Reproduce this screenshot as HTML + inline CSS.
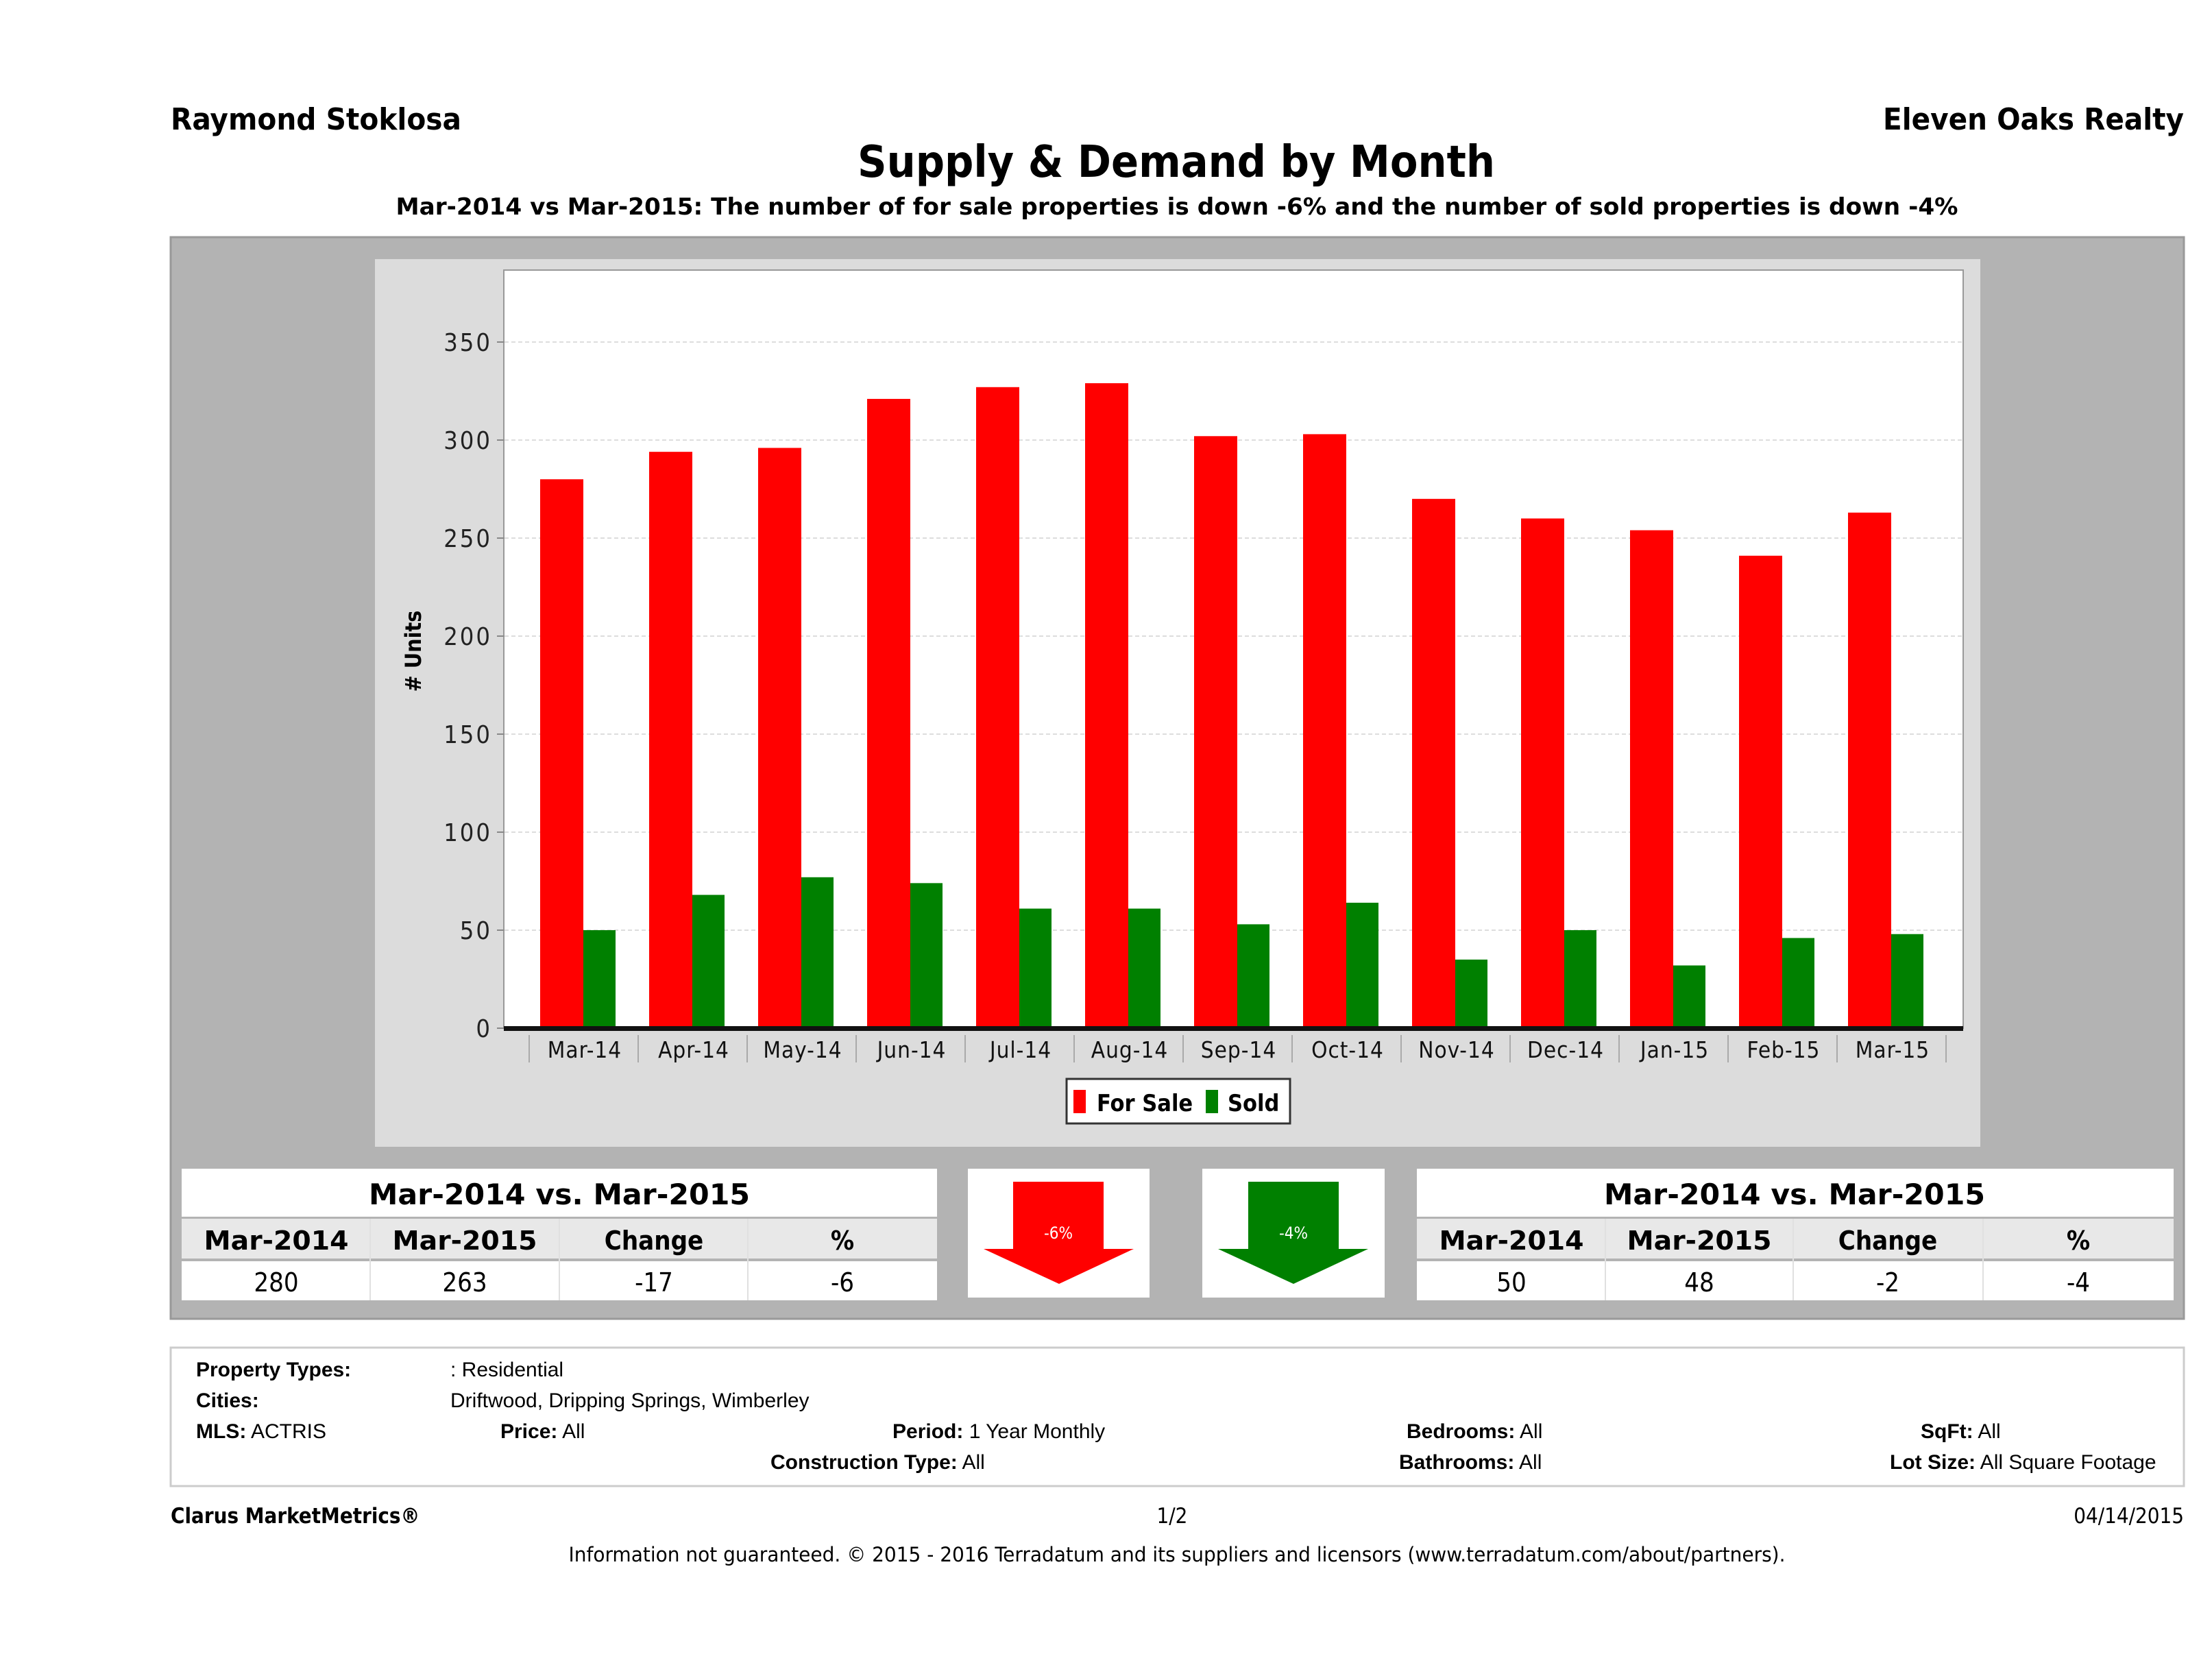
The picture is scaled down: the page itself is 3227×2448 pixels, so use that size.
<!DOCTYPE html>
<html><head><meta charset="utf-8"><style>html,body{margin:0;padding:0;background:#fff}svg{display:block}</style></head><body>
<svg xmlns="http://www.w3.org/2000/svg" width="3227" height="2448" viewBox="0 0 3227 2448" font-family="'DejaVu Sans Condensed','DejaVu Sans','Liberation Sans',sans-serif">
<rect width="3227" height="2448" fill="#fff"/>
<text x="249" y="189" font-size="44" font-weight="bold" textLength="424" lengthAdjust="spacingAndGlyphs">Raymond Stoklosa</text>
<text x="3186" y="189" font-size="44" font-weight="bold" text-anchor="end" textLength="439" lengthAdjust="spacingAndGlyphs">Eleven Oaks Realty</text>
<text x="1716" y="258" font-size="64" font-weight="bold" text-anchor="middle" textLength="930" lengthAdjust="spacingAndGlyphs">Supply &amp; Demand by Month</text>
<text x="1717" y="313" font-size="34" font-weight="bold" text-anchor="middle" textLength="2279" lengthAdjust="spacingAndGlyphs">Mar-2014 vs Mar-2015: The number of for sale properties is down -6% and the number of sold properties is down -4%</text>

<rect x="249" y="346" width="2937" height="1578" fill="#b3b3b3" stroke="#999" stroke-width="3"/>
<rect x="547" y="378" width="2342" height="1295" fill="#dcdcdc"/>
<rect x="735" y="394" width="2129" height="1106" fill="#fff" stroke="#999" stroke-width="2"/>
<g stroke="#ddd" stroke-width="2" stroke-dasharray="6,4">
<line x1="736" y1="1357" x2="2863" y2="1357"/><line x1="736" y1="1214" x2="2863" y2="1214"/><line x1="736" y1="1071" x2="2863" y2="1071"/><line x1="736" y1="928" x2="2863" y2="928"/><line x1="736" y1="785" x2="2863" y2="785"/><line x1="736" y1="642" x2="2863" y2="642"/><line x1="736" y1="499" x2="2863" y2="499"/>
</g>
<g font-size="36" text-anchor="end" fill="#222" letter-spacing="3">
<text x="718" y="1513">0</text><text x="718" y="1370">50</text><text x="718" y="1227">100</text><text x="718" y="1084">150</text><text x="718" y="941">200</text><text x="718" y="798">250</text><text x="718" y="655">300</text><text x="718" y="512">350</text>
</g>
<g stroke="#888" stroke-width="2"><line x1="725" y1="1500" x2="735" y2="1500"/><line x1="725" y1="1357" x2="735" y2="1357"/><line x1="725" y1="1214" x2="735" y2="1214"/><line x1="725" y1="1071" x2="735" y2="1071"/><line x1="725" y1="928" x2="735" y2="928"/><line x1="725" y1="785" x2="735" y2="785"/><line x1="725" y1="642" x2="735" y2="642"/><line x1="725" y1="499" x2="735" y2="499"/></g>
<text transform="translate(614,950) rotate(-90)" font-size="32" font-weight="bold" text-anchor="middle">#  Units</text>

<g transform="translate(0,1500) scale(1,-2.86)">
<g fill="#ff0000">
<rect x="788" y="0" width="63" height="280"/><rect x="947" y="0" width="63" height="294"/><rect x="1106" y="0" width="63" height="296"/><rect x="1265" y="0" width="63" height="321"/><rect x="1424" y="0" width="63" height="327"/><rect x="1583" y="0" width="63" height="329"/><rect x="1742" y="0" width="63" height="302"/><rect x="1901" y="0" width="63" height="303"/><rect x="2060" y="0" width="63" height="270"/><rect x="2219" y="0" width="63" height="260"/><rect x="2378" y="0" width="63" height="254"/><rect x="2537" y="0" width="63" height="241"/><rect x="2696" y="0" width="63" height="263"/>
</g>
<g fill="#008000">
<rect x="851" y="0" width="47" height="50"/><rect x="1010" y="0" width="47" height="68"/><rect x="1169" y="0" width="47" height="77"/><rect x="1328" y="0" width="47" height="74"/><rect x="1487" y="0" width="47" height="61"/><rect x="1646" y="0" width="47" height="61"/><rect x="1805" y="0" width="47" height="53"/><rect x="1964" y="0" width="47" height="64"/><rect x="2123" y="0" width="47" height="35"/><rect x="2282" y="0" width="47" height="50"/><rect x="2441" y="0" width="47" height="32"/><rect x="2600" y="0" width="47" height="46"/><rect x="2759" y="0" width="47" height="48"/>
</g>
</g>
<rect x="735" y="1497" width="2129" height="7" fill="#111"/>
<g stroke="#aaa" stroke-width="2">
<line x1="772" y1="1510" x2="772" y2="1550"/><line x1="931" y1="1510" x2="931" y2="1550"/><line x1="1090" y1="1510" x2="1090" y2="1550"/><line x1="1249" y1="1510" x2="1249" y2="1550"/><line x1="1408" y1="1510" x2="1408" y2="1550"/><line x1="1567" y1="1510" x2="1567" y2="1550"/><line x1="1726" y1="1510" x2="1726" y2="1550"/><line x1="1885" y1="1510" x2="1885" y2="1550"/><line x1="2044" y1="1510" x2="2044" y2="1550"/><line x1="2203" y1="1510" x2="2203" y2="1550"/><line x1="2362" y1="1510" x2="2362" y2="1550"/><line x1="2521" y1="1510" x2="2521" y2="1550"/><line x1="2680" y1="1510" x2="2680" y2="1550"/><line x1="2839" y1="1510" x2="2839" y2="1550"/>
</g>
<g font-size="33" text-anchor="middle" fill="#111" letter-spacing="1">
<text x="853" y="1543">Mar-14</text><text x="1012" y="1543">Apr-14</text><text x="1171" y="1543">May-14</text><text x="1330" y="1543">Jun-14</text><text x="1489" y="1543">Jul-14</text><text x="1648" y="1543">Aug-14</text><text x="1807" y="1543">Sep-14</text><text x="1966" y="1543">Oct-14</text><text x="2125" y="1543">Nov-14</text><text x="2284" y="1543">Dec-14</text><text x="2443" y="1543">Jan-15</text><text x="2602" y="1543">Feb-15</text><text x="2761" y="1543">Mar-15</text>
</g>
<rect x="1556" y="1574" width="326" height="65" fill="#fff" stroke="#333" stroke-width="3"/>
<rect x="1566" y="1590" width="18" height="34" fill="#ff0000"/>
<text x="1600" y="1621" font-size="34" font-weight="bold">For Sale</text>
<rect x="1759" y="1590" width="18" height="34" fill="#008000"/>
<text x="1791" y="1621" font-size="34" font-weight="bold">Sold</text>

<rect x="265" y="1705" width="1102" height="70" fill="#fff"/>
<rect x="265" y="1778" width="1102" height="58" fill="#e8e8e8"/>
<rect x="265" y="1840" width="1102" height="57" fill="#fff"/>
<g stroke="#e0e0e0" stroke-width="2"><line x1="540" y1="1778" x2="540" y2="1897"/><line x1="816" y1="1778" x2="816" y2="1897"/><line x1="1091" y1="1778" x2="1091" y2="1897"/></g>
<text x="816" y="1757" font-size="42" font-weight="bold" text-anchor="middle" textLength="556" lengthAdjust="spacingAndGlyphs">Mar-2014 vs. Mar-2015</text>
<g font-size="38" font-weight="bold" text-anchor="middle">
<text x="403" y="1823" textLength="211" lengthAdjust="spacingAndGlyphs">Mar-2014</text><text x="678" y="1823" textLength="211" lengthAdjust="spacingAndGlyphs">Mar-2015</text><text x="954" y="1823">Change</text><text x="1229" y="1823">%</text>
</g>
<g font-size="38" text-anchor="middle">
<text x="403" y="1884">280</text><text x="678" y="1884">263</text><text x="954" y="1884">-17</text><text x="1229" y="1884">-6</text>
</g>
<rect x="2067" y="1705" width="1104" height="70" fill="#fff"/>
<rect x="2067" y="1778" width="1104" height="58" fill="#e8e8e8"/>
<rect x="2067" y="1840" width="1104" height="57" fill="#fff"/>
<g stroke="#e0e0e0" stroke-width="2"><line x1="2342" y1="1778" x2="2342" y2="1897"/><line x1="2616" y1="1778" x2="2616" y2="1897"/><line x1="2893" y1="1778" x2="2893" y2="1897"/></g>
<text x="2618" y="1757" font-size="42" font-weight="bold" text-anchor="middle" textLength="556" lengthAdjust="spacingAndGlyphs">Mar-2014 vs. Mar-2015</text>
<g font-size="38" font-weight="bold" text-anchor="middle">
<text x="2205" y="1823" textLength="211" lengthAdjust="spacingAndGlyphs">Mar-2014</text><text x="2479" y="1823" textLength="211" lengthAdjust="spacingAndGlyphs">Mar-2015</text><text x="2754" y="1823">Change</text><text x="3032" y="1823">%</text>
</g>
<g font-size="38" text-anchor="middle">
<text x="2205" y="1884">50</text><text x="2479" y="1884">48</text><text x="2754" y="1884">-2</text><text x="3032" y="1884">-4</text>
</g>
<rect x="1412" y="1705" width="265" height="188" fill="#fff"/>
<polygon points="1478,1724 1610,1724 1610,1822 1654,1822 1545,1873 1435,1822 1478,1822" fill="#ff0000"/>
<text x="1544" y="1807" font-size="24" fill="#fff" text-anchor="middle">-6%</text>
<rect x="1754" y="1705" width="266" height="188" fill="#fff"/>
<polygon points="1821,1724 1953,1724 1953,1822 1996,1822 1887,1873 1777,1822 1821,1822" fill="#008000"/>
<text x="1887" y="1807" font-size="24" fill="#fff" text-anchor="middle">-4%</text>

<rect x="249" y="1966" width="2937" height="202" fill="#fff" stroke="#ccc" stroke-width="3"/>
<g font-size="30" font-family="'Liberation Sans',sans-serif">
<text x="286" y="2008" font-weight="bold">Property Types:</text><text x="657" y="2008">: Residential</text>
<text x="286" y="2053" font-weight="bold">Cities:</text><text x="657" y="2053">Driftwood, Dripping Springs, Wimberley</text>
<text x="286" y="2098"><tspan font-weight="bold">MLS:</tspan>   ACTRIS</text>
<text x="730" y="2098"><tspan font-weight="bold">Price:</tspan> All</text>
<text x="1302" y="2098"><tspan font-weight="bold">Period:</tspan> 1 Year Monthly</text>
<text x="2052" y="2098"><tspan font-weight="bold">Bedrooms:</tspan> All</text>
<text x="2802" y="2098"><tspan font-weight="bold">SqFt:</tspan>  All</text>
<text x="1124" y="2143"><tspan font-weight="bold">Construction Type:</tspan> All</text>
<text x="2041" y="2143"><tspan font-weight="bold">Bathrooms:</tspan> All</text>
<text x="2757" y="2143"><tspan font-weight="bold">Lot Size:</tspan>  All Square Footage</text>
</g>
<text x="249" y="2222" font-size="31" font-weight="bold">Clarus MarketMetrics®</text>
<text x="1710" y="2222" font-size="31" text-anchor="middle">1/2</text>
<text x="3186" y="2222" font-size="31" text-anchor="end">04/14/2015</text>
<text x="1717" y="2278" font-size="29" text-anchor="middle" textLength="1775" lengthAdjust="spacingAndGlyphs">Information not guaranteed. © 2015 - 2016 Terradatum and its suppliers and licensors (www.terradatum.com/about/partners).</text>
</svg>
</body></html>
